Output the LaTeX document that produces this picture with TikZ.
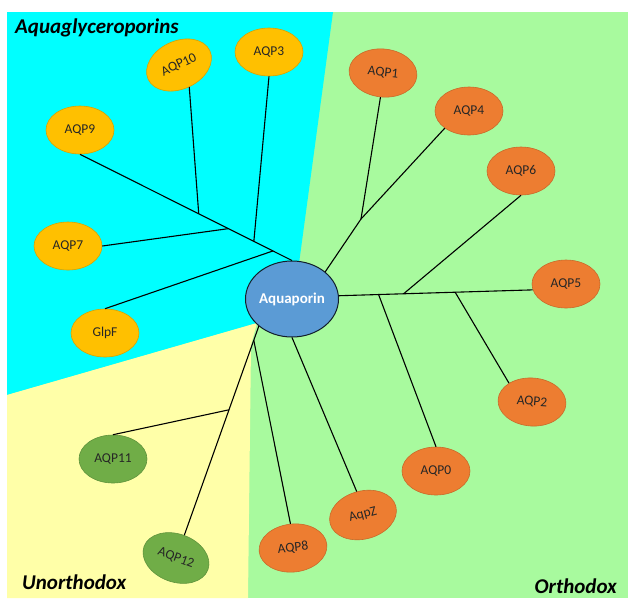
\documentclass[tikz,border=0pt]{standalone}
\usepackage{fontspec}
\setmainfont{Carlito}
\usepackage{tikz}
\usetikzlibrary{shapes,positioning,calc}

\definecolor{cyanbg}{RGB}{0,255,255}
\definecolor{greenbg}{RGB}{168,250,158}
\definecolor{yellowbg}{RGB}{255,255,168}
\definecolor{gold}{RGB}{255,192,0}
\definecolor{orng}{RGB}{237,125,49}
\definecolor{leaf}{RGB}{112,173,71}
\definecolor{steel}{RGB}{91,155,213}

\tikzset{
    aqp/.style={draw, ellipse, minimum width=68pt, minimum height=48pt, inner sep=0pt, line width=0.6pt, text=black!85, font=\fontsize{13.5}{16}\selectfont},
    glyc/.style={aqp, fill=gold, draw=gold!85!black},
    orth/.style={aqp, fill=orng, draw=orng!85!black},
    unorth/.style={aqp, fill=leaf, draw=leaf!85!black},
    branch/.style={line width=1.1pt},
    group/.style={inner sep=0pt, font=\fontsize{21}{25}\selectfont\bfseries\itshape}
}

\begin{document}
\begin{tikzpicture}[x=1pt, y=-1pt]
        \useasboundingbox (0,0) rectangle (628,598);
        \fill[white] (0,0) rectangle (628,598);
        % sectors
        \fill[greenbg] (7,12) rectangle (628,598);
        \fill[cyanbg] (7,12) -- (333,12) -- (290,330) -- (257,323) -- (7,395) -- cycle;
        \fill[yellowbg] (7,395) -- (257,323) -- (251,345) -- (248,598) -- (7,598) -- cycle;

        \node[group, anchor=base west] (glyctitle) at (15,33) {Aquaglyceroporins};
        \node[group, anchor=base west] (unorthtitle) at (22,589) {Unorthodox};
        \node[group, anchor=base east] (orthtitle) at (617,593) {Orthodox};

        \node[draw=black!80!steel, fill=steel, ellipse, minimum width=92pt, minimum height=76pt, inner sep=0pt, line width=1pt, text=white, font=\fontsize{15}{18}\selectfont\bfseries] (aquaporin) at (292,299) {Aquaporin};

        % aquaglyceroporins
        \node[glyc, rotate=25] (aqp10) at (179,65) {AQP10};
        \node[glyc] (aqp3) at (269,52) {AQP3};
        \node[glyc] (aqp9) at (80,130) {AQP9};
        \node[glyc] (aqp7) at (68,246) {AQP7};
        \node[glyc] (glpf) at (105,333) {GlpF};

        % orthodox
        \node[orth, rotate=-6] (aqp1) at (383,73) {AQP1};
        \node[orth] (aqp4) at (469,111) {AQP4};
        \node[orth] (aqp6) at (521,171) {AQP6};
        \node[orth] (aqp5) at (566,284) {AQP5};
        \node[orth, rotate=-4] (aqp2) at (532,402) {AQP2};
        \node[orth] (aqp0) at (436,471) {AQP0};
        \node[orth, rotate=15] (aqpz) at (363,515) {AqpZ};
        \node[orth, rotate=6] (aqp8) at (293,548) {AQP8};

        % unorthodox
        \node[unorth] (aqp11) at (113,459) {AQP11};
        \node[unorth, rotate=-20] (aqp12) at (176,558) {AQP12};

        % branch points
        \coordinate (ja) at ($(aqp9.south)!0.56!(aquaporin.north)$);
        \coordinate (jb) at ($(aqp9.south)!0.70!(aquaporin.north)$);
        \coordinate (jc) at ($(aqp9.south)!0.82!(aquaporin.north)$);
        \coordinate (jd) at ($(aqp9.south)!0.91!(aquaporin.north)$);
        \coordinate (je) at (361,219);
        \coordinate (jf) at ($(aquaporin.4)!0.205!(aqp5.190)$);
        \coordinate (jg) at ($(aquaporin.4)!0.334!(aqp5.190)$);
        \coordinate (jh) at ($(aquaporin.4)!0.60!(aqp5.190)$);
        \coordinate (ji) at ($(aquaporin.south west)!0.067!(aqp12.north)$);
        \coordinate (jj) at ($(aquaporin.south west)!0.40!(aqp12.north)$);

        \draw[branch] (aqp9.south) -- (aquaporin.north);
        \draw[branch] (ja) -- (aqp10.south);
        \draw[branch] (jb) -- (aqp7.east);
        \draw[branch] (jc) -- (aqp3.south);
        \draw[branch] (jd) -- (glpf.north);

        \draw[branch] (aquaporin.north east) -- (je) -- (aqp4.south west);
        \draw[branch] (je) -- (aqp1.south);
        \draw[branch] (aquaporin.4) -- (aqp5.190);
        \draw[branch] (jg) -- (aqp6.south);
        \draw[branch] (jf) -- (aqp0.north);
        \draw[branch] (jh) -- (aqp2.north west);
        \draw[branch] (aquaporin.south) -- (aqpz.north);

        \draw[branch] (aquaporin.south west) -- (aqp12.north);
        \draw[branch] (ji) -- (aqp8.north);
        \draw[branch] (jj) -- (aqp11.north);
    \end{tikzpicture}
\end{document}
